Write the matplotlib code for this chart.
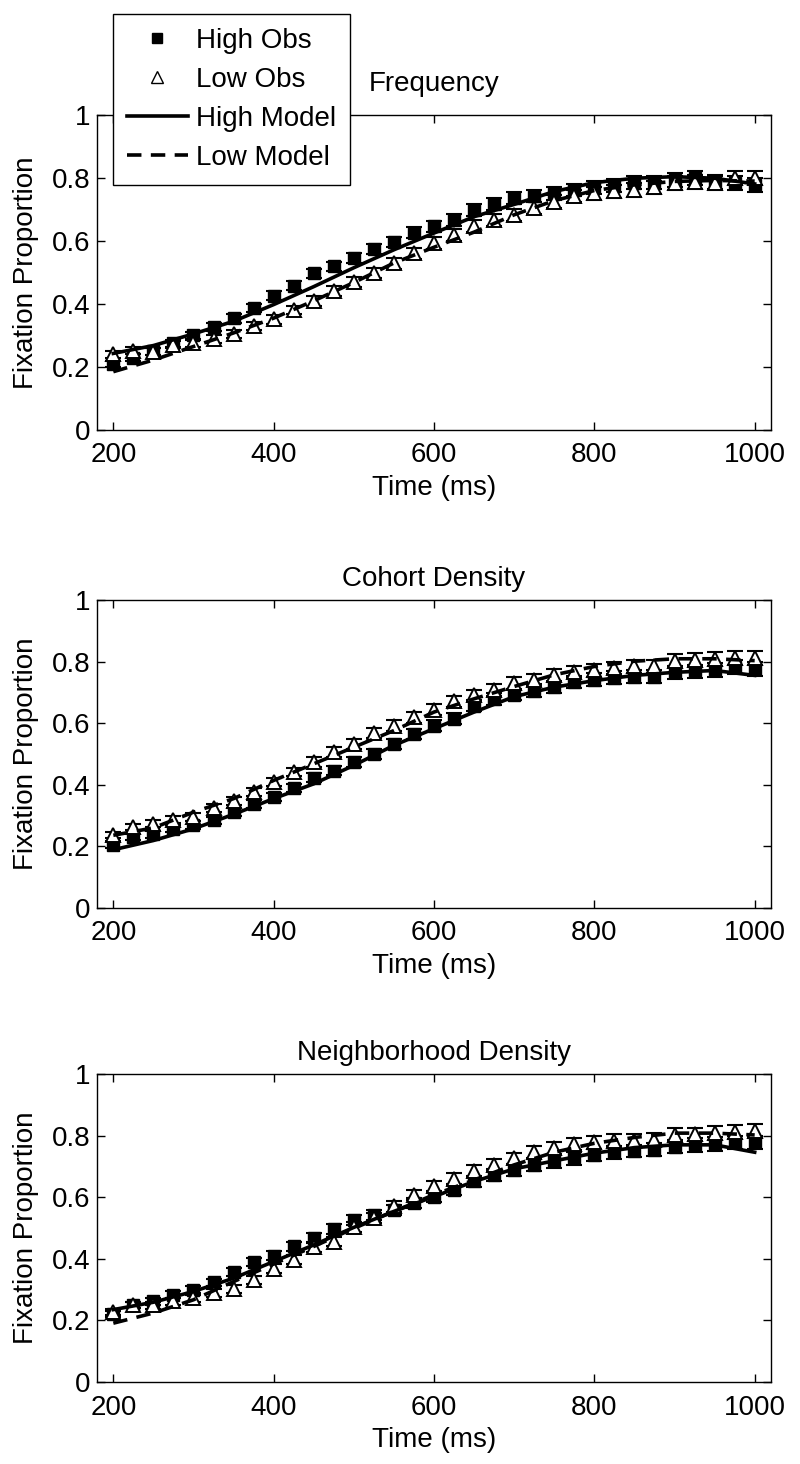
import matplotlib.pyplot as plt
from matplotlib.lines import Line2D

plt.rcParams['font.family'] = ['Liberation Sans', 'DejaVu Sans']

time = [200, 225, 250, 275, 300, 325, 350, 375, 400, 425, 450, 475, 500, 525, 550, 575, 600,
        625, 650, 675, 700, 725, 750, 775, 800, 825, 850, 875, 900, 925, 950, 975, 1000]
model_time = [200, 250, 300, 350, 400, 450, 500, 550, 600, 650, 700, 750, 800, 850, 900, 950, 1000]

# standard error (approx, same for all series)
err = [0.010, 0.010, 0.011, 0.011, 0.012, 0.012, 0.013, 0.013, 0.014, 0.014, 0.015, 0.015, 0.016,
       0.016, 0.017, 0.017, 0.018, 0.018, 0.019, 0.019, 0.019, 0.020, 0.020, 0.020, 0.021, 0.021,
       0.021, 0.021, 0.022, 0.022, 0.022, 0.022, 0.022]

# Frequency
freq_high = [0.21, 0.23, 0.25, 0.275, 0.30, 0.326, 0.354, 0.386, 0.426, 0.458, 0.497, 0.519, 0.545,
             0.574, 0.597, 0.626, 0.646, 0.667, 0.698, 0.717, 0.735, 0.743, 0.751, 0.762, 0.770,
             0.775, 0.785, 0.785, 0.794, 0.799, 0.788, 0.783, 0.778]
freq_low = [0.24, 0.252, 0.249, 0.27, 0.275, 0.288, 0.305, 0.33, 0.351, 0.381, 0.41, 0.441, 0.471,
            0.499, 0.529, 0.561, 0.593, 0.619, 0.646, 0.667, 0.683, 0.704, 0.725, 0.743, 0.751,
            0.757, 0.762, 0.77, 0.785, 0.788, 0.785, 0.799, 0.799]
freq_high_model = [0.243, 0.268, 0.305, 0.345, 0.398, 0.455, 0.515, 0.572, 0.625, 0.677, 0.716,
                   0.757, 0.785, 0.799, 0.804, 0.799, 0.781]
freq_low_model = [0.185, 0.222, 0.265, 0.308, 0.355, 0.41, 0.468, 0.53, 0.58, 0.628, 0.683,
                  0.728, 0.760, 0.778, 0.789, 0.792, 0.79]

# Cohort Density
coh_high = [0.206, 0.23, 0.239, 0.257, 0.27, 0.284, 0.311, 0.338, 0.36, 0.39, 0.423, 0.446, 0.474,
            0.501, 0.533, 0.565, 0.592, 0.614, 0.657, 0.679, 0.693, 0.706, 0.717, 0.733, 0.741,
            0.747, 0.751, 0.751, 0.765, 0.768, 0.773, 0.782, 0.776]
coh_low = [0.236, 0.263, 0.274, 0.286, 0.295, 0.325, 0.347, 0.376, 0.409, 0.441, 0.474, 0.506,
           0.533, 0.568, 0.592, 0.619, 0.643, 0.671, 0.69, 0.708, 0.73, 0.741, 0.755, 0.765, 0.771,
           0.779, 0.784, 0.784, 0.803, 0.805, 0.809, 0.812, 0.811]
coh_high_model = [0.189, 0.219, 0.257, 0.304, 0.355, 0.403, 0.463, 0.528, 0.582, 0.636, 0.686,
                  0.717, 0.738, 0.755, 0.765, 0.771, 0.755]
coh_low_model = [0.236, 0.26, 0.311, 0.355, 0.414, 0.468, 0.522, 0.576, 0.636, 0.679, 0.719,
                 0.757, 0.784, 0.801, 0.809, 0.809, 0.803]

# Neighborhood Density
nb_high = [0.22, 0.251, 0.262, 0.283, 0.30, 0.324, 0.357, 0.391, 0.41, 0.44, 0.469, 0.497, 0.526,
           0.543, 0.559, 0.581, 0.602, 0.624, 0.651, 0.672, 0.689, 0.705, 0.716, 0.726, 0.737,
           0.746, 0.75, 0.754, 0.764, 0.77, 0.773, 0.778, 0.778]
nb_low = [0.227, 0.249, 0.249, 0.262, 0.272, 0.289, 0.303, 0.332, 0.368, 0.397, 0.437, 0.456,
          0.503, 0.532, 0.57, 0.608, 0.635, 0.659, 0.685, 0.705, 0.726, 0.746, 0.759, 0.772, 0.778,
          0.783, 0.783, 0.786, 0.802, 0.804, 0.808, 0.811, 0.815]
nb_high_model = [0.235, 0.259, 0.294, 0.337, 0.391, 0.445, 0.502, 0.554, 0.602, 0.651, 0.692,
                 0.718, 0.743, 0.761, 0.77, 0.77, 0.746]
nb_low_model = [0.191, 0.224, 0.267, 0.326, 0.383, 0.44, 0.499, 0.554, 0.608, 0.656, 0.705,
                0.746, 0.775, 0.794, 0.808, 0.808, 0.802]

titles = ['Frequency', 'Cohort Density', 'Neighborhood Density']
panels = [(freq_high, freq_low, freq_high_model, freq_low_model),
          (coh_high, coh_low, coh_high_model, coh_low_model),
          (nb_high, nb_low, nb_high_model, nb_low_model)]
positions = [[0.1216, 0.7063, 0.8418, 0.2152],
             [0.1216, 0.3798, 0.8418, 0.2104],
             [0.1216, 0.0560, 0.8418, 0.2104]]

fig = plt.figure(figsize=(8, 14.64), dpi=100)
dash = (0, (4, 2.6))
fs = 20

for i in range(3):
    hi, lo, him, lom = panels[i]
    ax = fig.add_axes(positions[i])
    ax.plot(model_time, him, color='black', lw=2.6, zorder=4)
    ax.plot(model_time, lom, color='black', lw=2.6, linestyle=dash, zorder=4)
    for y in (hi, lo):
        ax.errorbar(time, y, yerr=err, fmt='none', ecolor='black', elinewidth=1.1,
                    capsize=6, capthick=1.5, zorder=2)
    ax.plot(time, hi, 's', color='black', ms=8, zorder=3)
    ax.plot(time, lo, '^', mfc='white', mec='black', mew=1.4, ms=10, zorder=3)
    ax.set_xlim(180, 1020)
    ax.set_ylim(0, 1)
    ax.set_xticks([200, 400, 600, 800, 1000])
    ax.set_yticks([0, 0.2, 0.4, 0.6, 0.8, 1])
    ax.set_yticklabels(['0', '0.2', '0.4', '0.6', '0.8', '1'])
    ax.tick_params(direction='in', length=6, width=1, labelsize=fs, top=True, right=True, pad=5)
    ax.tick_params(axis='x', pad=9)
    for s in ax.spines.values():
        s.set_linewidth(1)
    ax.set_xlabel('Time (ms)', fontsize=fs, labelpad=5)
    ax.set_ylabel('Fixation Proportion', fontsize=fs, labelpad=9)
    ax.set_title(titles[i], fontsize=fs, pad=17 if i == 0 else 10)
    if i == 0:
        handles = [Line2D([], [], marker='s', color='black', ls='none', ms=7),
                   Line2D([], [], marker='^', mfc='white', mec='black', ls='none', ms=9),
                   Line2D([], [], color='black', lw=2.6),
                   Line2D([], [], color='black', lw=2.6, ls=dash)]
        ax.legend(handles, ['High Obs', 'Low Obs', 'High Model', 'Low Model'],
                  loc='upper left', bbox_to_anchor=(0.141, 0.9904), bbox_transform=fig.transFigure,
                  fontsize=fs, frameon=True, fancybox=False, edgecolor='black', framealpha=1,
                  handlelength=2.2, handletextpad=0.3, labelspacing=0.47, borderpad=0.5,
                  borderaxespad=0)

plt.savefig('out.png', dpi=100)
